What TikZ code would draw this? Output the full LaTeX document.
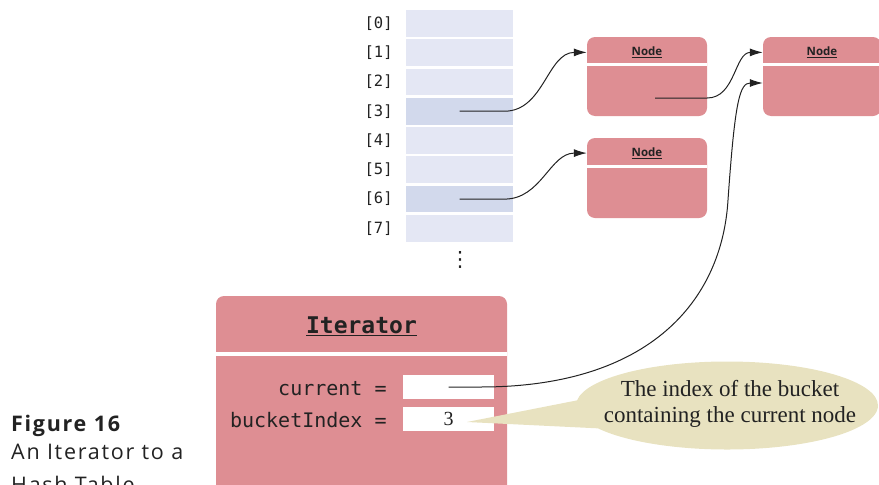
\documentclass[tikz,border=0pt]{standalone}
\usepackage{fontspec}
\setmainfont{Liberation Serif}
\setsansfont{Open Sans}
\setmonofont{DejaVu Sans Mono}
\newfontfamily\symfont{DejaVu Sans}
\newfontfamily\capfont[LetterSpace=8]{Open Sans}
\usetikzlibrary{arrows.meta,positioning,calc,shapes.callouts}
\def\wRef{1.0pt}
\definecolor{cPink}{HTML}{DE8E93}
\definecolor{cCell}{HTML}{E4E7F4}
\definecolor{cCellHi}{HTML}{D2D9EC}
\definecolor{cNote}{HTML}{E8E2C0}
\definecolor{cInk}{HTML}{222222}
\tikzset{
  cell/.style={fill=cCell, minimum width=107pt, minimum height=26.7pt, inner sep=0pt},
  hicell/.style={cell, fill=cCellHi},
  idx/.style={font=\ttfamily\fontsize{15.5}{17}\selectfont, text=cInk, inner sep=0pt},
  obj/.style={fill=cPink, rounded corners=8pt, inner sep=0pt},
  objtitle/.style={font=\sffamily\bfseries\fontsize{11.5}{13}\selectfont, text=cInk, inner sep=0pt, anchor=base},
  sep/.style={draw=white, line width=3pt},
  field/.style={fill=white, minimum width=91pt, minimum height=24pt, inner sep=0pt,
    font=\fontsize{20}{22}\selectfont, text=cInk},
  code/.style={font=\ttfamily\fontsize{20}{24}\selectfont, text=cInk, inner sep=0pt,
    text height=16pt, text depth=0pt},
  ref/.style={draw=cInk, line width=\wRef, -{Latex[length=13pt,width=8pt]}},
  note/.style={ellipse callout, fill=cNote, minimum width=302pt, minimum height=88pt,
    callout pointer arc=38, inner sep=0pt},
  notetext/.style={font=\fontsize{23}{26}\selectfont, text=cInk, align=center},
  caption/.style={font=\capfont\fontsize{21.5}{26}\selectfont, text=cInk, inner sep=0pt, anchor=base west},
}

\begin{document}
\begin{tikzpicture}[x=1pt, y=-1pt]
% bucket array, three list nodes, the iterator object and its note
\useasboundingbox (0,0) rectangle (879,485);
\node[cell]   (c0) at (459.5, 23.3)  {};
\node[cell]   (c1) at (459.5, 52.6)  {};
\node[cell]   (c2) at (459.5, 81.9)  {};
\node[hicell] (c3) at (459.5, 111.2) {};
\node[cell]   (c4) at (459.5, 140.5) {};
\node[cell]   (c5) at (459.5, 169.8) {};
\node[hicell] (c6) at (459.5, 199.1) {};
\node[cell]   (c7) at (459.5, 228.4) {};
\node[idx, left=13pt of c0] (i0) {[0]};
\node[idx, left=13pt of c1] (i1) {[1]};
\node[idx, left=13pt of c2] (i2) {[2]};
\node[idx, left=13pt of c3] (i3) {[3]};
\node[idx, left=13pt of c4] (i4) {[4]};
\node[idx, left=13pt of c5] (i5) {[5]};
\node[idx, left=13pt of c6] (i6) {[6]};
\node[idx, left=13pt of c7] (i7) {[7]};
\node[font=\symfont\fontsize{21}{21}\selectfont, text=cInk, inner sep=0pt] (more) at (460, 260) {⋮};

\node[obj, minimum width=120pt, minimum height=79pt] (boxA) at (647, 76.5) {};
\node[obj, minimum width=118pt, minimum height=79pt] (boxB) at (822, 76.5) {};
\node[obj, minimum width=120pt, minimum height=80pt] (boxC) at (647, 178)  {};
\draw[sep] (boxA.west |- 0,64.7) -- (boxA.east |- 0,64.7);
\draw[sep] (boxB.west |- 0,64.7) -- (boxB.east |- 0,64.7);
\draw[sep] (boxC.west |- 0,166.2) -- (boxC.east |- 0,166.2);
\node[objtitle] (tA) at (647, 55.7)  {\underline{Node}};
\node[objtitle] (tB) at (822, 55.7)  {\underline{Node}};
\node[objtitle] (tC) at (647, 156.4) {\underline{Node}};
\coordinate (nextA) at (655, 98);
\coordinate (inB) at (boxB.west |- 0,83);

\node[obj, minimum width=291pt, minimum height=260pt] (iter) at (361.5, 426) {};
\draw[sep, line width=4pt] (iter.west |- 0,354) -- (iter.east |- 0,354);
\node[font=\ttfamily\bfseries\fontsize{23}{26}\selectfont, text=cInk, inner sep=0pt, anchor=base]
  (tIt) at (361.5, 333.3) {\underline{Iterator}};
\node[field] (fCur) at (448.5, 387) {};
\node[field] (fIdx) at (448.5, 419) {3};
\node[code, left=16pt of fCur] (lCur) {current =};
\node[code, left=16pt of fIdx] (lIdx) {bucketIndex =};

\coordinate (tip) at (467, 422);
\node[note, callout absolute pointer={(tip)}] (note) at (727, 405.5) {};
\node[notetext] (noteText) at (730, 404) {The index of the bucket\\ containing the current node};

\draw[ref] (c3.center) -- +(45,0) to[out=0, in=180] (boxA.west |- tA);
\draw[ref] (c6.center) -- +(45,0) to[out=0, in=180] (boxC.west |- tC);
\draw[ref] (nextA) -- (boxA.east |- nextA) to[out=0, in=180] (boxB.west |- tB);
\coordinate (bend) at (728, 200);
\draw[ref] (fCur.center) -- +(32,0) .. controls +(170,0) and +(-6,100) .. (bend)
  .. controls +(7,-100) and +(-23,0) .. (inB);

\node[caption] (figNo) at (11, 431) {\bfseries Figure 16};
\node[caption] (capA)  at (11, 459) {An Iterator to a};
\node[caption] (capB)  at (11, 492) {Hash Table};
\end{tikzpicture}
\end{document}
